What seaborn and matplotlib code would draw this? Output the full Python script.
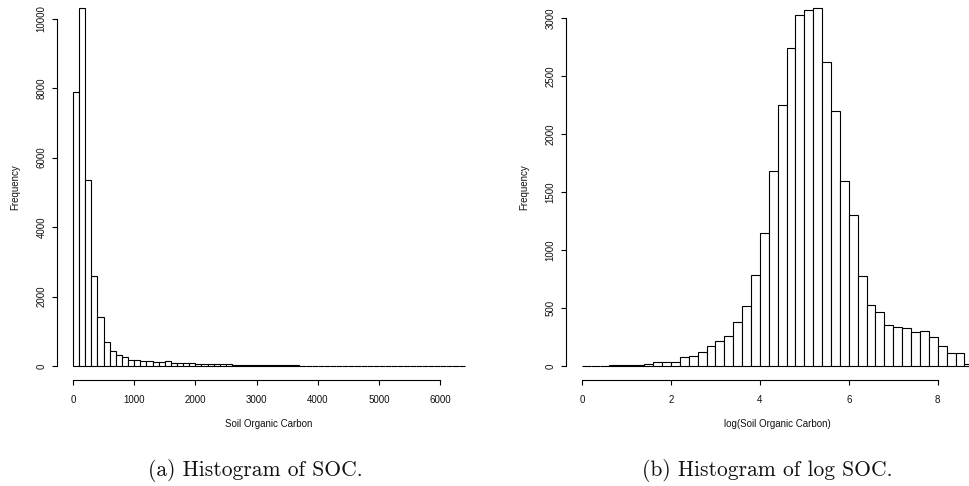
import numpy as np
import pandas as pd
import matplotlib
matplotlib.use("Agg")
import matplotlib.pyplot as plt
import seaborn as sns

# ---- data ----
soc_bin_width = 100
soc_counts = [7890, 10290, 5350, 2580, 1405, 700, 425, 330, 250, 185,
              165, 145, 155, 110, 105, 130, 100, 78, 75, 75,
              70, 70, 65, 55, 52, 50, 38, 42, 42, 35,
              38, 22, 20, 18, 17, 16, 15, 14, 13, 12,
              12, 11, 10, 10, 9, 9, 8, 9, 13, 8,
              7, 7, 6, 6, 5, 5, 4, 4, 3, 3,
              3, 2, 2, 2]
log_bin_width = 0.2
log_counts = [4, 4, 2, 7, 8, 8, 12, 15, 37, 32,
              35, 75, 85, 120, 175, 215, 255, 375, 520, 785,
              1150, 1680, 2245, 2740, 3025, 3065, 3080, 2615, 2200, 1590,
              1300, 775, 525, 462, 350, 340, 330, 290, 300, 250,
              175, 115, 110, 15]
soc_xticks = [0, 1000, 2000, 3000, 4000, 5000, 6000]
soc_yticks = [0, 2000, 4000, 6000, 8000, 10000]
log_xticks = [0, 2, 4, 6, 8]
log_yticks = [0, 500, 1000, 1500, 2000, 2500, 3000]
xlabels = ["Soil Organic Carbon", "log(Soil Organic Carbon)"]
ylabel = "Frequency"
captions = ["(a) Histogram of SOC.", "(b) Histogram of log SOC."]

sns.set_style("ticks")
plt.rcParams['font.family'] = ['Liberation Sans', 'DejaVu Sans']

W, H = 969, 486
fig = plt.figure(figsize=(W / 100, H / 100), dpi=100)


def make_panel(left_px, counts, bw, xticks, yticks, xlabel):
    n = len(counts)
    edges = np.arange(n + 1) * bw
    centers = (edges[:-1] + edges[1:]) / 2
    df = pd.DataFrame({"x": centers, "w": counts})
    xmax = float(edges[-1])
    ymax = max(counts)
    xlo, xhi = -0.04 * xmax, xmax * 1.04
    ylo, yhi = -0.04 * ymax, ymax * 1.04
    px_per_y = (380.3 - 366.0) / (0.04 * ymax)
    top_px = 380.3 - (yhi - ylo) * px_per_y
    width_px = 423.0 if xmax > 100 else 422.6
    bb_h = 380.3 - top_px
    ax = fig.add_axes([left_px / W, (H - 380.3) / H, width_px / W, bb_h / H])
    sns.histplot(data=df, x="x", weights="w", bins=n, binrange=(0.0, xmax), ax=ax,
                 color="white", edgecolor="black", linewidth=0.8, alpha=1.0)
    ax.set_xlim(xlo, xhi)
    ax.set_ylim(ylo, yhi)
    ax.set_xticks(xticks)
    ax.set_yticks(yticks)
    ax.set_xticklabels([str(t) for t in xticks])
    ax.set_yticklabels([str(t) for t in yticks], rotation=90, va="center")
    ax.spines["top"].set_visible(False)
    ax.spines["right"].set_visible(False)
    ax.spines["left"].set_bounds(yticks[0], yticks[-1])
    ax.spines["bottom"].set_bounds(xticks[0], xticks[-1])
    for s in ("left", "bottom"):
        ax.spines[s].set_linewidth(0.8)
        ax.spines[s].set_color("black")
    ax.tick_params(axis="both", direction="out", length=3.4, width=0.8,
                   color="black", labelsize=7, labelcolor="#111111")
    ax.tick_params(axis="x", pad=7.5)
    ax.tick_params(axis="y", pad=4.5)
    ax.set_xlabel(xlabel, fontsize=7, color="#111111")
    ax.set_ylabel(ylabel, fontsize=7, color="#111111")
    ax.xaxis.set_label_coords(0.5, -43.5 / bb_h)
    ax.xaxis.label.set_va("center")
    ax.yaxis.set_label_coords(-42.5 / width_px, 0.5)
    ax.yaxis.label.set_va("center")
    ax.patch.set_alpha(0)
    return ax


ax1 = make_panel(57.3, soc_counts, soc_bin_width, soc_xticks, soc_yticks, xlabels[0])
ax2 = make_panel(566.35, log_counts, log_bin_width, log_xticks, log_yticks, xlabels[1])

fig.text(255 / W, 1 - 470 / H, captions[0], family="cmr10", fontsize=15.5,
         ha="center", va="center", color="#111111")
fig.text(767 / W, 1 - 470 / H, captions[1], family="cmr10", fontsize=15.5,
         ha="center", va="center", color="#111111")

fig.savefig("out.png", dpi=100, facecolor="white")
